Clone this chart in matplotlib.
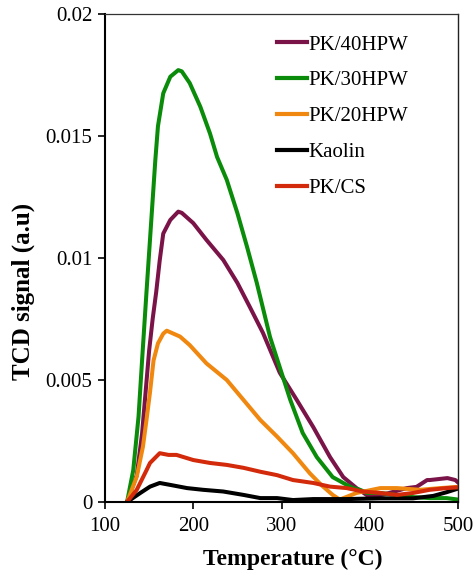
import matplotlib
matplotlib.use("Agg")
import matplotlib.pyplot as plt

# PK/40HPW (purple)
t_40 = [125, 136, 142, 146, 150, 154, 158, 162, 166, 174, 183, 187, 200, 215, 234, 250, 264, 279,
        298, 317, 336, 355, 370, 385, 400, 415, 442, 453, 465, 468, 488, 497, 500]
v_40 = [0.0, 0.0011, 0.0028, 0.0045, 0.0062, 0.0075, 0.0086, 0.0099, 0.0110, 0.01156, 0.0119,
        0.01185, 0.01143, 0.01074, 0.00992, 0.00898, 0.0080, 0.00693, 0.0053, 0.0042, 0.00307,
        0.00184, 0.00102, 0.00057, 0.0002, 0.0003, 0.00057, 0.00062, 0.0009, 0.0009, 0.00098,
        0.0009, 0.0008]

# PK/30HPW (green)
t_30 = [125, 132, 138, 142, 147, 152, 157, 160, 166, 174, 183, 187, 196, 208, 219, 227, 238, 250,
        261, 272, 287, 310, 324, 340, 358, 374, 381, 389, 397, 412, 449, 468, 487, 500]
v_30 = [0.0, 0.0013, 0.0035, 0.0058, 0.0086, 0.0113, 0.0140, 0.0154, 0.01675, 0.01743, 0.0177,
        0.01765, 0.01717, 0.0162, 0.0151, 0.01414, 0.0132, 0.01184, 0.01045, 0.00898, 0.00676,
        0.00418, 0.00283, 0.00184, 0.00102, 0.0007, 0.00057, 0.0005, 0.00037, 0.00037, 0.0002,
        0.00016, 0.00016, 0.0001]

# PK/20HPW (orange)
t_20 = [125, 136, 143, 147, 151, 155, 160, 166, 170, 185, 196, 215, 238, 257, 276, 295, 313, 332,
        345, 358, 366, 385, 412, 431, 457, 480, 500]
v_20 = [0.0, 0.00104, 0.00227, 0.00336, 0.0045, 0.0058, 0.0065, 0.0069, 0.00702, 0.00678,
        0.00643, 0.00568, 0.0050, 0.00418, 0.00336, 0.00268, 0.0020, 0.00118, 0.0007, 0.00029,
        0.0001, 0.00037, 0.00057, 0.00057, 0.0005, 0.00057, 0.00062]

# Kaolin (black)
t_k = [125, 140, 151, 162, 174, 193, 211, 234, 257, 276, 295, 313, 336, 374, 412, 449, 472,
       487, 500]
v_k = [0.0, 0.00037, 0.00063, 0.00078, 0.0007, 0.00057, 0.0005, 0.00043, 0.00029, 0.00016,
       0.00016, 0.00008, 0.00012, 0.00012, 0.00015, 0.00015, 0.00025, 0.0004, 0.00055]

# PK/CS (red)
t_cs = [125, 136, 147, 151, 162, 172, 181, 200, 219, 238, 257, 276, 295, 313, 336, 355, 374,
        392, 412, 431, 449, 468, 487, 500]
v_cs = [0.0, 0.0005, 0.0013, 0.0016, 0.0020, 0.00193, 0.00193, 0.00172, 0.0016, 0.00152,
        0.0014, 0.00124, 0.0011, 0.0009, 0.00078, 0.00063, 0.00057, 0.00043, 0.00037, 0.00029,
        0.00037, 0.0005, 0.00057, 0.0006]

labels = ["PK/40HPW", "PK/30HPW", "PK/20HPW", "Kaolin", "PK/CS"]
colors = ["#7A1448", "#0A8C0A", "#F0870F", "#000000", "#D22A0A"]

x_ticks = [100, 200, 300, 400, 500]
y_ticks = [0, 0.005, 0.01, 0.015, 0.02]
y_tick_labels = ["0", "0.005", "0.01", "0.015", "0.02"]

plt.rcParams['font.family'] = ['Liberation Serif', 'DejaVu Serif']

fig = plt.figure(figsize=(4.74, 5.77), dpi=100)
ax = fig.add_axes([105/474, 1-502/577, (458-105)/474, (502-14)/577])

series = [(t_40, v_40), (t_30, v_30), (t_20, v_20), (t_k, v_k), (t_cs, v_cs)]
for (t, v), lab, col in zip(series, labels, colors):
    ax.plot(t, v, color=col, lw=2.9, label=lab, solid_joinstyle='round')

ax.set_xlim(100, 500)
ax.set_ylim(0, 0.02)
ax.set_xticks(x_ticks)
ax.set_xticklabels([str(v) for v in x_ticks])
ax.set_yticks(y_ticks)
ax.set_yticklabels(y_tick_labels)
ax.tick_params(axis='both', labelsize=15, direction='out', length=5, width=1.2, colors='black')
ax.tick_params(axis='x', pad=6)
ax.tick_params(axis='y', pad=4)

for side in ['left', 'bottom']:
    ax.spines[side].set_linewidth(1.5)
    ax.spines[side].set_color('black')
ax.spines['top'].set_linewidth(0.9)
ax.spines['top'].set_color('#333333')
ax.spines['right'].set_linewidth(1.0)
ax.spines['right'].set_color('#222222')

ax.set_xlabel("Temperature (°C)", fontsize=17, fontweight='bold')
ax.xaxis.set_label_coords((293-105)/353, (502-549)/488)
ax.set_ylabel("TCD signal (a.u)", fontsize=18, fontweight='bold')
ax.yaxis.set_label_coords((35-105)/353, (502-291)/488)

leg = ax.legend(loc='upper left', bbox_to_anchor=((277-105)/353, (502-35)/488), frameon=False,
                fontsize=15, handlelength=1.45, handletextpad=0.05, labelspacing=0.78,
                borderaxespad=0.0, borderpad=0.0)
for line in leg.get_lines():
    line.set_linewidth(3)

fig.savefig("out.png", dpi=100)
